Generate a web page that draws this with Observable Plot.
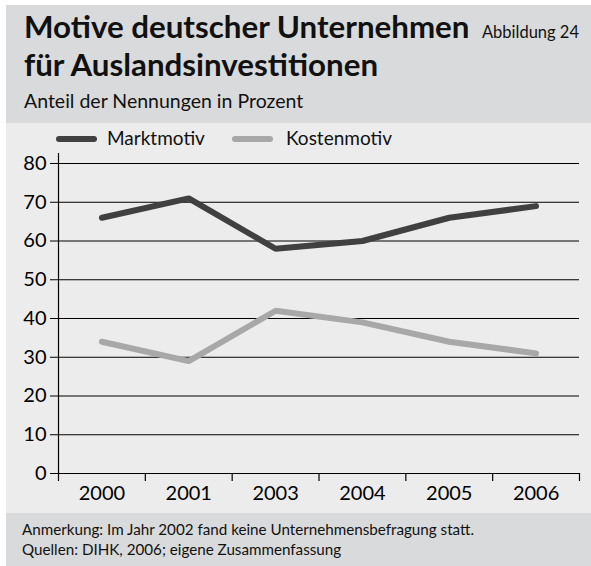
<!DOCTYPE html>
<html>
<head>
<meta charset="utf-8">
<script src="https://cdn.jsdelivr.net/npm/d3@7"></script>
<script src="https://cdn.jsdelivr.net/npm/@observablehq/plot@0.6"></script>
<style>
  html, body { margin: 0; padding: 0; background: #fff; }
  body { width: 591px; height: 566px; position: relative; overflow: hidden; font-family: Lato, "Open Sans", sans-serif; color: #111; }
  .abs { position: absolute; white-space: nowrap; }
  .bg-dark { background: #d9dadb; }
  .bg-light { background: #ececec; }
</style>
</head>
<body>
<div class="abs bg-dark" style="left:6px;top:5px;width:585px;height:118px"></div>
<div class="abs bg-light" style="left:6px;top:123px;width:585px;height:390px"></div>
<div class="abs bg-dark" style="left:6px;top:513px;width:585px;height:53px"></div>

<div id="t1" class="abs" style="left:24px;top:8.4px;font-size:31.3px;line-height:37.6px;font-weight:700"></div>
<div id="t2" class="abs" style="left:24px;top:45.8px;font-size:31.3px;line-height:37.6px;font-weight:700"></div>
<div id="fig" class="abs" style="right:12px;top:22.7px;font-size:16.5px;line-height:19.8px"></div>
<div id="sub" class="abs" style="left:24px;top:88.8px;font-size:19.5px;line-height:23.4px"></div>

<div id="legend"></div>

<div id="chart" class="abs" style="left:6px;top:150px"></div>

<div id="f1" class="abs" style="left:22px;top:520px;font-size:15.2px;line-height:18.2px"></div>
<div id="f2" class="abs" style="left:22px;top:540px;font-size:15.2px;line-height:18.2px"></div>

<script>
// ---- Data ----
const titleLines = ["Motive deutscher Unternehmen", "für Auslandsinvestitionen"];
const figureLabel = "Abbildung 24";
const subtitle = "Anteil der Nennungen in Prozent";
const footnotes = [
  "Anmerkung: Im Jahr 2002 fand keine Unternehmensbefragung statt.",
  "Quellen: DIHK, 2006; eigene Zusammenfassung"
];
const years = ["2000", "2001", "2003", "2004", "2005", "2006"];
const seriesNames = ["Marktmotiv", "Kostenmotiv"];
const marktmotiv = [66, 71, 58, 60, 66, 69];
const kostenmotiv = [34, 29, 42, 39, 34, 31];
const seriesColors = ["#404040", "#a8a8a8"];
const yTicks = [0, 10, 20, 30, 40, 50, 60, 70, 80];

// ---- Text ----
document.getElementById("t1").textContent = titleLines[0];
document.getElementById("t2").textContent = titleLines[1];
document.getElementById("fig").textContent = figureLabel;
document.getElementById("sub").textContent = subtitle;
document.getElementById("f1").textContent = footnotes[0];
document.getElementById("f2").textContent = footnotes[1];

// ---- Legend ----
const legendLayout = [{sw: 56, tx: 107}, {sw: 232, tx: 286}];
const legend = document.getElementById("legend");
seriesNames.forEach((name, k) => {
  const s = document.createElement("div");
  s.className = "abs";
  s.style.cssText = `left:${legendLayout[k].sw}px;top:136px;width:41px;height:6px;border-radius:3px;background:${seriesColors[k]}`;
  legend.appendChild(s);
  const t = document.createElement("div");
  t.className = "abs";
  t.style.cssText = `left:${legendLayout[k].tx}px;top:127.2px;font-size:19px;line-height:22.8px`;
  t.textContent = name;
  legend.appendChild(t);
});

// ---- Chart ----
const data = [];
years.forEach((y, i) => {
  data.push({i, year: y, series: seriesNames[0], value: marktmotiv[i]});
  data.push({i, year: y, series: seriesNames[1], value: kostenmotiv[i]});
});
const centers = years.map((_, i) => i);
const boundaries = years.map((_, i) => i - 0.5).concat([years.length - 0.5]);

const chart = Plot.plot({
  width: 585,
  height: 363,
  marginLeft: 52,
  marginRight: 12,
  marginTop: 13,
  marginBottom: 40,
  style: {background: "transparent", fontFamily: "Lato, 'Open Sans', sans-serif", color: "#000", overflow: "visible"},
  x: {type: "linear", domain: [-0.5, years.length - 0.5]},
  y: {domain: [0, 80]},
  color: {domain: seriesNames, range: seriesColors},
  marks: [
    Plot.gridY(yTicks.filter(d => d > 0), {stroke: "#000", strokeOpacity: 1, strokeWidth: 1.2}),
    Plot.ruleY([0], {stroke: "#000", strokeWidth: 1.2}),
    Plot.ruleX([-0.5], {stroke: "#000", strokeWidth: 1.2, insetTop: -10}),
    Plot.axisY(yTicks, {tickSize: 8, tickPadding: 4, fontSize: 20, label: null, stroke: "#000"}),
    Plot.axisX(boundaries, {tickSize: 8, tickFormat: () => "", label: null, strokeWidth: 1.2}),
    Plot.axisX(centers, {tickSize: 0, tickPadding: 12, tickFormat: i => years[i], fontSize: 20, label: null}),
    Plot.line(data, {x: "i", y: "value", z: "series", stroke: "series", strokeWidth: 6, strokeLinecap: "round", strokeLinejoin: "miter"})
  ]
});
document.getElementById("chart").appendChild(chart);
</script>
</body>
</html>
